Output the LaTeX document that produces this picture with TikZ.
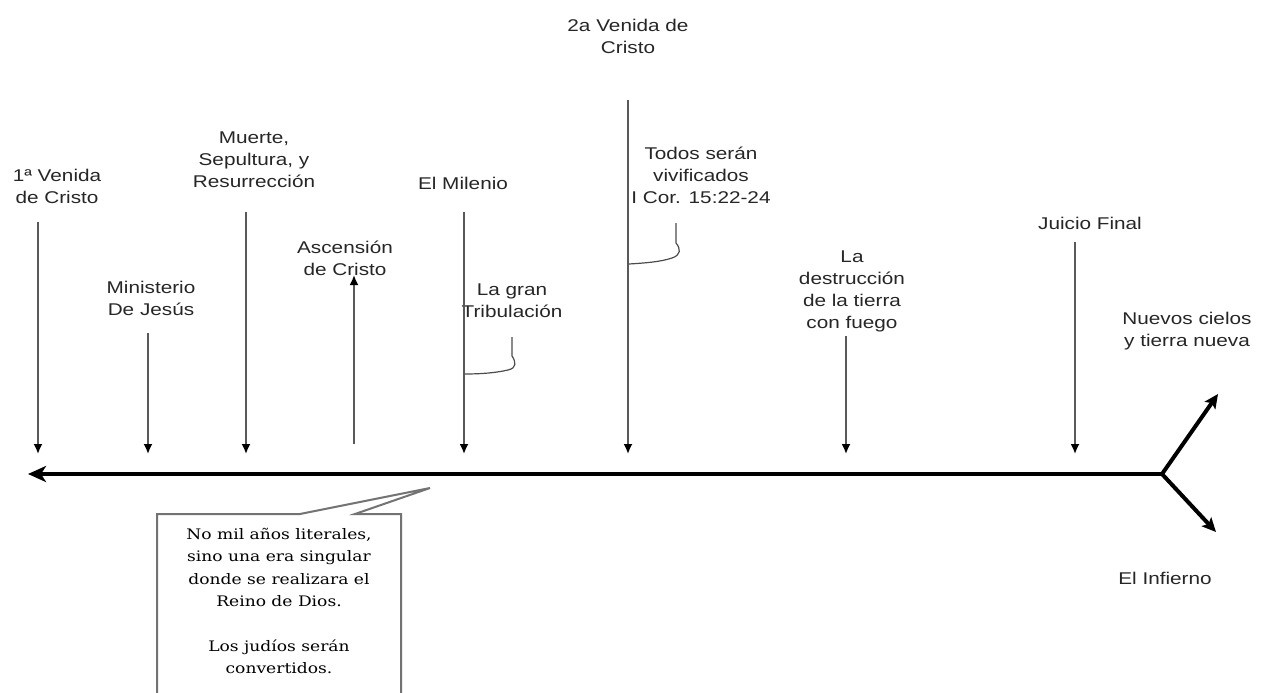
\documentclass[tikz,border=0pt]{standalone}
\usepackage{fontspec}
\setmainfont{Liberation Sans}[FakeStretch=1.22]
\newfontfamily\serifcallout{DejaVu Serif}[FakeStretch=1.18]
\usetikzlibrary{arrows.meta}
\begin{document}
\begin{tikzpicture}[x=1pt,y=-1pt,
  lbl/.style={align=center,font=\fontsize{17}{22}\selectfont,text=black!85,inner sep=0pt},
  tick/.style={draw=black!65,line width=1.8pt,-{Latex[length=10pt,width=9pt,color=black]}},
  axis/.style={line width=4.5pt,-{Stealth[length=18pt,width=16pt,inset=5pt]}},
  fork/.style={line width=4pt,-{Stealth[length=14pt,width=13pt,inset=3pt]}},
  brace/.style={draw=black!70,line width=1.2pt},
  callout/.style={draw=black!55,line width=2pt,fill=white}]
\useasboundingbox (0,0) rectangle (1261,693);
% main axis
\coordinate (fk) at (1162,474);
\coordinate (axl) at (28,474);
\draw[axis] (fk) -- (axl);
\coordinate (up) at (1218,394);
\coordinate (dn) at (1216,532);
\draw[fork] (fk) -- (up);
\draw[fork] (fk) -- (dn);
% labels
\node[lbl] (v1) at (57,186) {1ª Venida\\de Cristo};
\node[lbl] (min) at (151,298) {Ministerio\\De Jesús};
\node[lbl] (mue) at (254,160) {Muerte,\\Sepultura, y\\Resurrección};
\node[lbl] (asc) at (345,258) {Ascensión\\de Cristo};
\node[lbl] (mil) at (463,183) {El Milenio};
\node[lbl] (v2) at (628,36) {2a Venida de\\Cristo};
\node[lbl] (trib) at (512,301) {La gran\\Tribulación};
\node[lbl] (tod) at (701,175) {Todos serán\\vivificados\\I Cor. 15:22-24};
\node[lbl] (des) at (852,291) {La\\destrucción\\de la tierra\\con fuego};
\node[lbl] (jui) at (1090,223) {Juicio Final};
\node[lbl] (nue) at (1187,331) {Nuevos cielos\\y tierra nueva};
\node[lbl] (inf) at (1165,578) {El Infierno};
% tick tops and ends
\coordinate (t1) at (38,222);   \coordinate (e1) at (38,454);
\coordinate (t2) at (148,333);  \coordinate (e2) at (148,454);
\coordinate (t3) at (246,212);  \coordinate (e3) at (246,454);
\coordinate (t4) at (354,444);  \coordinate (e4) at (354,275);
\coordinate (t5) at (464,212);  \coordinate (e5) at (464,454);
\coordinate (t6) at (628,100);  \coordinate (e6) at (628,454);
\coordinate (t7) at (846,336);  \coordinate (e7) at (846,454);
\coordinate (t8) at (1075,242); \coordinate (e8) at (1075,454);
\foreach \i in {1,...,8} \draw[tick] (t\i) -- (e\i);
% braces
\coordinate (b1) at (512,337);
\coordinate (b1e) at (465,374);
\draw[brace] (b1) -- (512,356) .. controls (516,362) and (517,368) .. (508,370) .. controls (495,373) and (480,374) .. (b1e);
\coordinate (b2) at (676,223);
\coordinate (b2e) at (629,264);
\draw[brace] (b2) -- (676,243) .. controls (681,249) and (681,255) .. (672,258) .. controls (660,262) and (645,263) .. (b2e);
% callout
\coordinate (ctip) at (430,488);
\draw[callout] (157,700) -- (157,514) -- (300,514) -- (ctip) -- (355,514) -- (401,514) -- (401,700);
\node[align=center,font=\serifcallout\fontsize{14.5}{22.5}\selectfont,inner sep=0pt,anchor=north] (ctext) at (279,528)
 {No mil años literales,\\sino una era singular\\donde se realizara el\\Reino de Dios.\\[22pt]Los judíos serán\\convertidos.};
\end{tikzpicture}
\end{document}
